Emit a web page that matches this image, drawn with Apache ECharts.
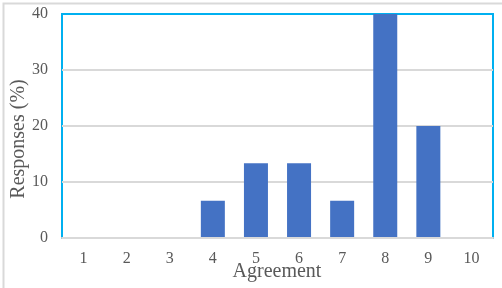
<!DOCTYPE html>
<html><head><meta charset="utf-8">
<script src="https://cdn.jsdelivr.net/npm/echarts@6/dist/echarts.min.js"></script>
<style>html,body{margin:0;padding:0;background:#fff}#c{width:502px;height:288px}</style>
</head><body><div id="c"></div>
<script>
const categories = ['1','2','3','4','5','6','7','8','9','10'];
const responses = [0, 0, 0, 6.67, 13.33, 13.33, 6.67, 40, 20, 0];
const yTicks = [0, 10, 20, 30, 40];
const xTitle = 'Agreement';
const yTitle = 'Responses (%)';

const titleStyle = {fontFamily: 'Liberation Serif', fontSize: 20, fill: '#595959', align: 'center', verticalAlign: 'middle'};
const chart = echarts.init(document.getElementById('c'), null, {renderer: 'canvas'});
chart.setOption({
  animation: false,
  backgroundColor: '#fff',
  graphic: [
    {type: 'rect', left: 1, top: 1, shape: {width: 500, height: 286},
      style: {fill: 'none', stroke: '#D9D9D9', lineWidth: 2}, silent: true},
    {type: 'text', x: 277, y: 272, style: Object.assign({text: xTitle}, titleStyle), silent: true},
    {type: 'text', x: 19, y: 139, rotation: Math.PI / 2, style: Object.assign({text: yTitle}, titleStyle), silent: true}
  ],
  grid: {left: 62, right: 9, top: 14, bottom: 50, show: true, borderColor: '#00B0F0', borderWidth: 2,
    backgroundColor: 'transparent', containLabel: false, outerBoundsMode: 'none'},
  xAxis: {
    type: 'category', data: categories,
    axisLine: {show: true, lineStyle: {color: '#D9D9D9', width: 2}},
    axisTick: {show: false},
    axisLabel: {fontFamily: 'Liberation Serif', fontSize: 16, color: '#595959', margin: 13},
    z: 5
  },
  yAxis: {
    type: 'value', min: yTicks[0], max: yTicks[yTicks.length-1], interval: 10,
    axisLine: {show: false}, axisTick: {show: false},
    axisLabel: {fontFamily: 'Liberation Serif', fontSize: 16, color: '#595959', margin: 14},
    splitLine: {showMaxLine: false, lineStyle: {color: '#D9D9D9', width: 2}}
  },
  series: [{type: 'bar', data: responses, barWidth: 24, itemStyle: {color: '#4472C4'}}]
});
</script></body></html>
